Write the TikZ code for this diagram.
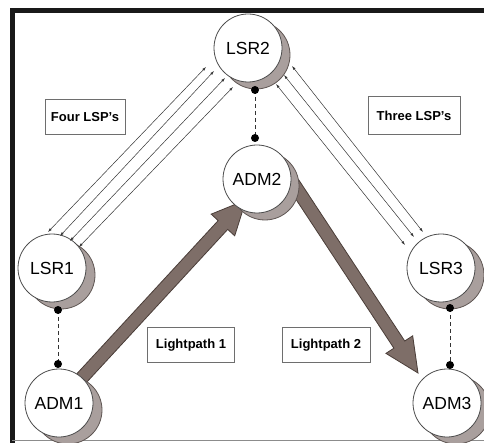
\documentclass[tikz,border=0pt]{standalone}
\usepackage{fontspec}
\setmainfont{Liberation Sans}
\usetikzlibrary{calc,arrows.meta}
\definecolor{shade}{HTML}{A99F9D}
\definecolor{shadeedge}{HTML}{5E5552}
\definecolor{lpfill}{HTML}{7E6E68}
\definecolor{lpedge}{HTML}{4A3D38}
\definecolor{boxedge}{HTML}{6E6E6E}
\pgfdeclarelayer{bg}
\pgfsetlayers{bg,main}
\begin{document}
\begin{tikzpicture}[x=1pt,y=-1pt,
  router/.style={circle, draw=black!70, line width=0.8pt, fill=white, minimum size=68pt, inner sep=0pt, font=\fontsize{17.5}{18}\selectfont},
  shadowc/.style={circle, draw=shadeedge, line width=0.8pt, fill=shade, minimum size=68pt, inner sep=0pt},
  lsp/.style={line width=0.5pt, draw=black!80, {Latex[length=4pt,width=2.6pt]}-{Latex[length=4pt,width=2.6pt]}},
  tag/.style={draw=boxedge, line width=1pt, inner sep=0pt, font=\bfseries\fontsize{13}{13}\selectfont},
  lightpath/.style={fill=lpfill, draw=lpedge, line width=0.8pt, line join=miter},
  tie/.style={line width=0.7pt, draw=black!80, dash pattern=on 4pt off 3pt},
  joint/.style={circle, fill=black, minimum size=8pt, inner sep=0pt}]

\useasboundingbox (0,0) rectangle (484,443);

% frame
\draw[line width=5pt, black!90] (12.5,443) -- (12.5,10.5) -- (484,10.5);
\draw[line width=1pt, black!45] (12,440.5) -- (484,440.5);

% shadows
\node[shadowc] (lsr1sh) at (61,275) {};
\node[shadowc] (lsr2sh) at (256,55) {};
\node[shadowc] (lsr3sh) at (450,275) {};
\node[shadowc] (adm1sh) at (68,410) {};
\node[shadowc] (adm2sh) at (265,186) {};
\node[shadowc] (adm3sh) at (456,410) {};

% routers
\node[router] (lsr1) at (52,268) {LSR1};
\node[router] (lsr2) at (248,48) {LSR2};
\node[router] (lsr3) at (441,268) {LSR3};
\node[router] (adm1) at (59,403) {ADM1};
\node[router] (adm2) at (257,179) {ADM2};
\node[router] (adm3) at (447,403) {ADM3};

% labels
\node[tag, minimum width=80pt, minimum height=35pt] (four) at (85,117) {Four LSP's};
\node[tag, minimum width=92pt, minimum height=38pt] (three) at (414,116) {Three LSP's};
\node[tag, minimum width=87pt, minimum height=35pt] (lp1) at (191,345) {Lightpath 1};
\node[tag, minimum width=88pt, minimum height=35pt] (lp2) at (326,345) {Lightpath 2};

% LSPs LSR1 - LSR2
\draw[lsp] ($(lsr1)+(-4,-36)$) -- ($(lsr2)+(-42,19)$);
\draw[lsp] ($(lsr1)+(8,-32)$) -- ($(lsr2)+(-34,23)$);
\draw[lsp] ($(lsr1)+(18,-27)$) -- ($(lsr2)+(-23,30)$);
\draw[lsp] ($(lsr1)+(27,-21)$) -- ($(lsr2)+(-15,39)$);
% LSPs LSR2 - LSR3
\draw[lsp] ($(lsr2)+(44,18)$) -- ($(lsr3)+(-18,-36)$);
\draw[lsp] ($(lsr2)+(36,27)$) -- ($(lsr3)+(-27,-31)$);
\draw[lsp] ($(lsr2)+(28,36)$) -- ($(lsr3)+(-36,-23)$);

% dashed ties with dots
\coordinate (t1a) at ($(lsr1)+(6,42)$);
\coordinate (t1b) at ($(adm1)+(-1,-39)$);
\coordinate (t2a) at ($(lsr2)+(7,42)$);
\coordinate (t2b) at ($(adm2)+(-2,-41)$);
\coordinate (t3a) at ($(lsr3)+(9,40)$);
\coordinate (t3b) at ($(adm3)+(3,-38)$);
\draw[tie] (t1a) -- (t1b);
\draw[tie] (t2a) -- (t2b);
\draw[tie] (t3a) -- (t3b);
\node[joint] (j1a) at (t1a) {};
\node[joint] (j1b) at (t1b) {};
\node[joint] (j2a) at (t2a) {};
\node[joint] (j2b) at (t2b) {};
\node[joint] (j3a) at (t3a) {};
\node[joint] (j3b) at (t3b) {};

% lightpaths (behind the routers)
\begin{pgfonlayer}{bg}
\coordinate (p1s) at ($(adm1)+(20,-22)$);
\coordinate (p1t) at ($(adm2)+(-11,21)$);
\coordinate (p1b) at ($(p1t)!34pt!(p1s)$);
\draw[lightpath] ($(p1s)!6.5pt!90:(p1t)$) -- ($(p1b)!6.5pt!90:(p1t)$) -- ($(p1b)!16pt!90:(p1t)$) -- (p1t)
  -- ($(p1b)!16pt!-90:(p1t)$) -- ($(p1b)!6.5pt!-90:(p1t)$) -- ($(p1s)!6.5pt!-90:(p1t)$) -- cycle;
\coordinate (p2s) at ($(adm2)+(36,4)$);
\coordinate (p2t) at ($(adm3)+(-29,-30)$);
\coordinate (p2b) at ($(p2t)!34pt!(p2s)$);
\draw[lightpath] ($(p2s)!6.5pt!90:(p2t)$) -- ($(p2b)!6.5pt!90:(p2t)$) -- ($(p2b)!16pt!90:(p2t)$) -- (p2t)
  -- ($(p2b)!16pt!-90:(p2t)$) -- ($(p2b)!6.5pt!-90:(p2t)$) -- ($(p2s)!6.5pt!-90:(p2t)$) -- cycle;
\end{pgfonlayer}
\end{tikzpicture}
\end{document}
